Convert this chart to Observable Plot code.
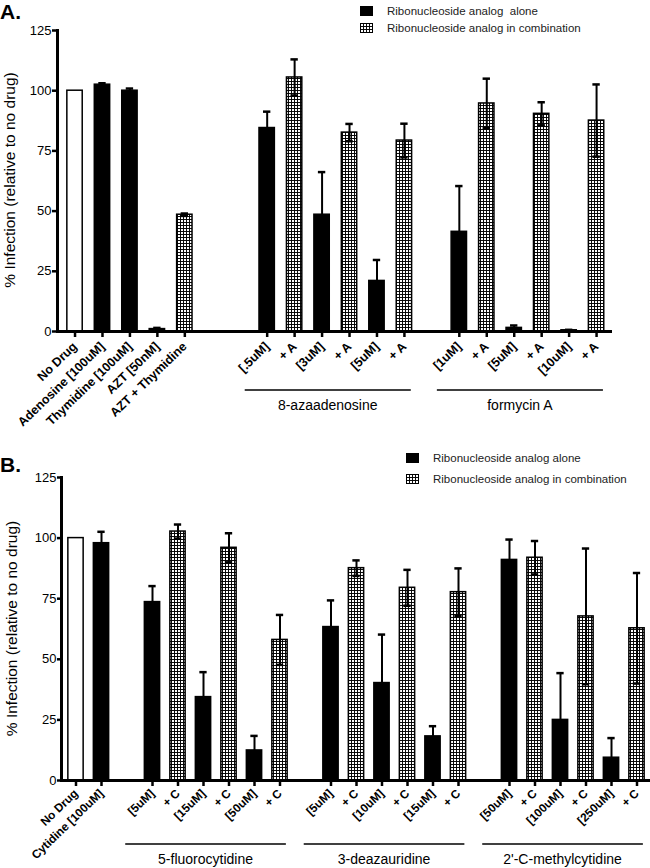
<!DOCTYPE html>
<html><head><meta charset="utf-8">
<script src="https://cdn.jsdelivr.net/npm/d3@7"></script>
<script src="https://cdn.jsdelivr.net/npm/@observablehq/plot@0.6"></script>
<style>
body{margin:0;background:#fff;font-family:Arial,"Liberation Sans",sans-serif;}
#page{position:relative;width:650px;height:868px;overflow:hidden;background:#fff;}
.panel{position:absolute;left:0;}
.tag{position:absolute;font-weight:bold;font-size:21px;line-height:21px;color:#000;}
.legend{position:absolute;font-size:11.5px;color:#222;}
.legend .row{position:absolute;left:0;display:flex;align-items:center;white-space:pre;}
.legend svg{margin-right:14px;}
</style>
</head><body>
<svg width="0" height="0" style="position:absolute"><defs>
<pattern id="grid" patternUnits="userSpaceOnUse" width="3" height="3">
<rect width="3" height="3" fill="white"/>
<path d="M0 0.5H3M0.5 0V3" stroke="#000" stroke-width="0.95"/>
</pattern></defs></svg>
<div id="page"></div>
<script>
// ---------- Panel A data ----------
const aLabels = ["No Drug","Adenosine [100uM]","Thymidine [100uM]","AZT [50nM]","AZT + Thymidine",
  "[.5uM]","+ A","[3uM]","+ A","[5uM]","+ A",
  "[1uM]","+ A","[5uM]","+ A","[10uM]","+ A"];
const aGroups = ["","","","","",
  "8-azaadenosine","8-azaadenosine","8-azaadenosine","8-azaadenosine","8-azaadenosine","8-azaadenosine",
  "formycin A","formycin A","formycin A","formycin A","formycin A","formycin A"];
const aValues = [100,102.5,100,1,48.5, 84.5,105.5,48.5,82.6,21,79.3, 41.4,94.7,1.5,90.4,0.5,87.6];
const aErrors = [0,0.6,0.9,0.5,0.5, 6.8,7.5,17.7,3.6,8.7,7, 19,10.3,1,4.8,0.2,15];
const aKinds = ["none","alone","alone","alone","combo",
  "alone","combo","alone","combo","alone","combo",
  "alone","combo","alone","combo","alone","combo"];

// ---------- Panel B data ----------
const bLabels = ["No Drug","Cytidine [100uM]",
  "[5uM]","+ C","[15uM]","+ C","[50uM]","+ C",
  "[5uM]","+ C","[10uM]","+ C","[15uM]","+ C",
  "[50uM]","+ C","[100uM]","+ C","[250uM]","+ C"];
const bGroups = ["","",
  "5-fluorocytidine","5-fluorocytidine","5-fluorocytidine","5-fluorocytidine","5-fluorocytidine","5-fluorocytidine",
  "3-deazauridine","3-deazauridine","3-deazauridine","3-deazauridine","3-deazauridine","3-deazauridine",
  "2'-C-methylcytidine","2'-C-methylcytidine","2'-C-methylcytidine","2'-C-methylcytidine","2'-C-methylcytidine","2'-C-methylcytidine"];
const bValues = [100,97.9, 73.6,102.7,34.4,96,12.4,58, 63.3,87.6,40.2,79.5,18.2,77.7, 91,91.9,25,67.7,9.4,62.8];
const bErrors = [0,4.7, 6.6,2.9,10.3,6,6,10.3, 11,3.2,20,7.4,4.2,9.8, 8.4,6.9,19.3,28,8.1,22.8];
const bKinds = ["none","alone",
  "alone","combo","alone","combo","alone","combo",
  "alone","combo","alone","combo","alone","combo",
  "alone","combo","alone","combo","alone","combo"];

const yTicks = [0,25,50,75,100,125];
const yLabel = "% Infection (relative to no drug)";
const legendLabels = ["Ribonucleoside analog  alone","Ribonucleoside analog in combination"];
const legendLabelsB = ["Ribonucleoside analog alone","Ribonucleoside analog in combination"];

const FONT = "Arial, 'Liberation Sans', sans-serif";

function buildPanel(cfg) {
  const rows = cfg.labels.map((label, i) => ({id: "k" + i, label, group: cfg.groups[i],
    value: cfg.values[i], err: cfg.errors[i], kind: cfg.kinds[i]}));
  const domain = [];
  let g = 0;
  rows.forEach((r, i) => {
    if (i > 0 && r.group !== rows[i - 1].group) {
      const n = cfg.gaps[g++];
      for (let k = 0; k < n; k++) domain.push("gap" + g + "_" + k);
    }
    domain.push(r.id);
  });
  const labelOf = new Map(rows.map(r => [r.id, r.label]));
  const withErr = rows.filter(r => r.err > 0);
  const lineStyle = {stroke: "black", strokeWidth: 1.5};
  const plot = Plot.plot({
    width: 650, height: cfg.height,
    marginTop: cfg.mt, marginBottom: cfg.mb, marginLeft: cfg.ml, marginRight: cfg.mr,
    style: {fontFamily: FONT, background: "white", color: "black", overflow: "visible"},
    x: {type: "band", domain, paddingInner: cfg.pi, paddingOuter: cfg.po, align: 0.5, round: false,
        insetLeft: cfg.il, insetRight: cfg.ir},
    y: {domain: [0, 125]},
    marks: [
      Plot.barY(rows.filter(r => r.kind === "none"), {x: "id", y: "value", fill: "white", ...lineStyle}),
      Plot.barY(rows.filter(r => r.kind === "alone"), {x: "id", y: "value", fill: "black", ...lineStyle}),
      Plot.barY(rows.filter(r => r.kind === "combo"), {x: "id", y: "value", fill: "url(#grid)", ...lineStyle}),
      Plot.ruleX(withErr, {x: "id", y1: d => d.value - d.err, y2: d => d.value + d.err, stroke: "black", strokeWidth: 2}),
      Plot.tickY(withErr, {x: "id", y: d => d.value + d.err, stroke: "black", strokeWidth: 2.5, insetLeft: 4, insetRight: 4}),
      Plot.tickY(withErr.filter(r => r.kind === "combo"), {x: "id", y: d => d.value - d.err, stroke: "black", strokeWidth: 2.5, insetLeft: 4, insetRight: 4}),
      Plot.ruleY([0], {stroke: "black", strokeWidth: 3}),
      Plot.frame({anchor: "left", stroke: "black", strokeWidth: 3}),
      Plot.axisY({ticks: yTicks, tickSize: cfg.yts, tickPadding: 1, fontSize: 13, strokeWidth: 2.5, label: null}),
      Plot.axisX({ticks: rows.map(r => r.id), tickFormat: id => labelOf.get(id), tickRotate: -44,
        tickSize: 6, tickPadding: cfg.xtp, strokeWidth: 2.5, fontSize: cfg.xfs, fontWeight: "bold", label: null})
    ]
  });
  // group underlines and names, positioned through the same band scale
  const xs = d3.scaleBand().domain(domain)
    .range([cfg.ml + cfg.il, 650 - cfg.mr - cfg.ir]).paddingInner(cfg.pi).paddingOuter(cfg.po).align(0.5);
  const step = xs.step(), bw = xs.bandwidth();
  const svg = d3.select(plot);
  const groupNames = [...new Set(rows.map(r => r.group))].filter(s => s);
  groupNames.forEach(name => {
    const gr = rows.filter(r => r.group === name);
    const x1 = xs(gr[0].id) + bw / 2 - cfg.gl * step;
    const x2 = xs(gr[gr.length - 1].id) + bw / 2 + 0.25 * step;
    svg.append("line").attr("x1", x1).attr("x2", x2).attr("y1", cfg.gly).attr("y2", cfg.gly)
      .attr("stroke", "black").attr("stroke-width", 1.3);
    svg.append("text").attr("x", (x1 + x2) / 2).attr("y", cfg.gty).attr("dy", "0.35em")
      .attr("text-anchor", "middle").attr("font-size", 14).attr("font-family", FONT).attr("fill", "black").text(name);
  });
  svg.append("text").attr("transform", `translate(${cfg.ylx},${cfg.yly}) rotate(-90)`)
    .attr("text-anchor", "middle").attr("dy", "0.35em").attr("font-size", 15.5)
    .attr("font-family", FONT).attr("fill", "black").text(yLabel);
  return plot;
}

function legend(top, left, gap, labels) {
  const div = document.createElement("div");
  div.className = "legend";
  div.style.top = top + "px"; div.style.left = left + "px";
  labels.forEach((lab, i) => {
    const row = document.createElement("div");
    row.className = "row";
    row.style.top = (i * gap - 8) + "px";
    row.style.height = "16px";
    const fill = i === 0 ? "black" : "url(#grid)";
    row.innerHTML = `<svg width="13" height="10"><rect x="0.5" y="0.5" width="12" height="9" fill="${fill}" stroke="black" stroke-width="1"/></svg><span>${lab}</span>`;
    div.appendChild(row);
  });
  return div;
}

const page = document.getElementById("page");

const pA = buildPanel({labels: aLabels, groups: aGroups, values: aValues, errors: aErrors, kinds: aKinds,
  gaps: [2, 1], height: 440, mt: 30, mb: 109, ml: 57, mr: 38, il: 7.1, ir: 5.5, pi: 0.44, po: 0.1,
  yts: 5, xfs: 12.5, xtp: 7, gl: 0.8, gly: 390, gty: 405, ylx: 10, yly: 180});
pA.classList.add("panel"); pA.style.top = "0px";
page.appendChild(pA);

const pB = buildPanel({labels: bLabels, groups: bGroups, values: bValues, errors: bErrors, kinds: bKinds,
  gaps: [1, 1, 1], height: 428, mt: 37, mb: 88, ml: 61, mr: 0, il: 4.3, ir: 3.3, pi: 0.4, po: 0.1,
  yts: 4, xfs: 11.8, xtp: 5, gl: 1.05, gly: 404, gty: 419, ylx: 11.5, yly: 188.5});
pB.classList.add("panel"); pB.style.top = "440px";
page.appendChild(pB);

const tA = document.createElement("div"); tA.className = "tag"; tA.textContent = "A.";
tA.style.left = "0px"; tA.style.top = "1px"; page.appendChild(tA);
const tB = document.createElement("div"); tB.className = "tag"; tB.textContent = "B.";
tB.style.left = "0px"; tB.style.top = "454px"; page.appendChild(tB);

page.appendChild(legend(11, 360, 17, legendLabels));
page.appendChild(legend(458, 406, 21, legendLabelsB));
</script>
</body></html>
